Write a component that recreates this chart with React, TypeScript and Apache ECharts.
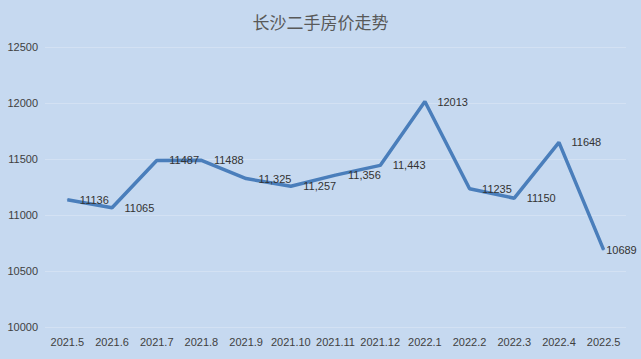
import React, { useEffect, useRef } from "react";
import * as echarts from "echarts";

const title = "长沙二手房价走势";
const categories = ["2021.5", "2021.6", "2021.7", "2021.8", "2021.9", "2021.10", "2021.11", "2021.12", "2022.1", "2022.2", "2022.3", "2022.4", "2022.5"];
const prices = [11136, 11065, 11487, 11488, 11325, 11257, 11356, 11443, 12013, 11235, 11150, 11648, 10689];
const commaLabels = [false, false, false, false, true, true, true, true, false, false, false, false, false];
const yMin = 10000;
const yMax = 12500;
const yStep = 500;

export default function App() {
  const ref = useRef<HTMLDivElement>(null);
  useEffect(() => {
    document.body.style.margin = "0";
    const chart = echarts.init(ref.current!, null, { renderer: "svg" });
    const data = prices.map((v, i) => ({
      value: v,
      label: {
        show: true,
        position: "right",
        distance: i === prices.length - 1 ? 2 : 12,
        formatter: commaLabels[i] ? v.toLocaleString("en-US") : String(v),
      },
    }));
    chart.setOption({
      animation: false,
      backgroundColor: "#c6d9f0",
      title: {
        text: title,
        left: "center",
        top: 8,
        textStyle: {
          fontFamily: "Noto Sans CJK SC",
          fontSize: 17,
          fontWeight: "normal",
          color: "#595959",
        },
      },
      grid: { left: 45, right: 15, top: 47, bottom: 32 },
      xAxis: {
        type: "category",
        data: categories,
        boundaryGap: true,
        axisLine: { show: false },
        axisTick: { show: false },
        axisLabel: {
          color: "#3f3f3f",
          fontFamily: "Liberation Sans",
          fontSize: 11,
          margin: 9,
          interval: 0,
        },
      },
      yAxis: {
        type: "value",
        min: yMin,
        max: yMax,
        interval: yStep,
        axisLine: { show: false },
        axisTick: { show: false },
        splitLine: { lineStyle: { color: "#d3e1f3", width: 1 } },
        axisLabel: {
          color: "#3f3f3f",
          fontFamily: "Liberation Sans",
          fontSize: 11,
          margin: 7,
          formatter: (v: number) => String(v),
        },
      },
      series: [
        {
          type: "line",
          data,
          showSymbol: true,
          symbol: "circle",
          symbolSize: 1,
          itemStyle: { color: "#4f81bd" },
          lineStyle: { color: "#4a7ebb", width: 3.5 },
          label: {
            show: true,
            position: "right",
            color: "#333333",
            fontFamily: "Liberation Sans",
            fontSize: 11,
          },
        },
      ],
    });
    return () => chart.dispose();
  }, []);
  return <div ref={ref} style={{ width: 641, height: 359 }} />;
}
